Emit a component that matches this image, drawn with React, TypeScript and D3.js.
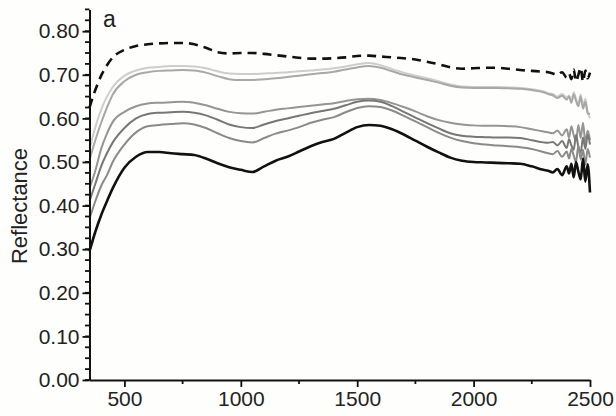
import React, { useRef, useEffect } from 'react';
import * as d3 from 'd3';

// wavelengths (nm): coarse until 2300, then finer where the spectra get noisy
const wavelengths = [
  350, 375, 400, 425, 450, 500, 550, 600, 650, 700, 750, 800, 850, 900, 950, 1000,
  1050, 1100, 1150, 1200, 1250, 1300, 1350, 1400, 1450, 1500, 1550, 1600, 1650, 1700,
  1750, 1800, 1850, 1900, 1950, 2000, 2050, 2100, 2150, 2200, 2250, 2300,
  2320, 2340, 2360, 2380, 2400, 2410, 2420, 2430, 2440, 2450, 2460, 2470, 2480, 2490, 2500
];

const dashedTop = [
  0.625, 0.665, 0.698, 0.722, 0.74, 0.757, 0.766, 0.77, 0.772, 0.773, 0.773, 0.77, 0.762, 0.752, 0.749, 0.75,
  0.75, 0.748, 0.745, 0.742, 0.739, 0.737, 0.737, 0.738, 0.74, 0.743, 0.744, 0.742, 0.74, 0.738,
  0.735, 0.73, 0.724, 0.717, 0.714, 0.715, 0.716, 0.716, 0.714, 0.711, 0.709, 0.707,
  0.706, 0.703, 0.7, 0.706, 0.694, 0.703, 0.69, 0.712, 0.685, 0.7, 0.716, 0.684, 0.71, 0.692, 0.705
];

const lightest = [
  0.53, 0.58, 0.62, 0.65, 0.672, 0.698, 0.71, 0.716, 0.718, 0.72, 0.72, 0.719, 0.715, 0.708, 0.703, 0.702,
  0.702, 0.703, 0.704, 0.706, 0.708, 0.71, 0.712, 0.715, 0.719, 0.724, 0.727, 0.722, 0.713, 0.705,
  0.698, 0.692, 0.685, 0.678, 0.673, 0.672, 0.672, 0.672, 0.671, 0.67, 0.667, 0.662,
  0.658, 0.656, 0.65, 0.656, 0.648, 0.652, 0.64, 0.66, 0.645, 0.632, 0.655, 0.628, 0.645, 0.615, 0.6
];

const light = [
  0.505, 0.55, 0.59, 0.625, 0.655, 0.685, 0.7, 0.706, 0.709, 0.71, 0.711, 0.71, 0.705, 0.697, 0.69, 0.688,
  0.688, 0.69, 0.692, 0.695, 0.698, 0.701, 0.704, 0.707, 0.712, 0.717, 0.72, 0.716, 0.708, 0.7,
  0.694, 0.688, 0.682, 0.675, 0.671, 0.67, 0.67, 0.67, 0.669, 0.668, 0.665, 0.66,
  0.656, 0.653, 0.647, 0.652, 0.643, 0.65, 0.636, 0.655, 0.64, 0.628, 0.65, 0.622, 0.638, 0.612, 0.61
];

const medium1 = [
  0.44, 0.48, 0.53, 0.565, 0.592, 0.615, 0.628, 0.634, 0.636, 0.637, 0.638, 0.636, 0.63, 0.622, 0.615, 0.612,
  0.611, 0.615, 0.62, 0.623, 0.626, 0.629, 0.632, 0.635, 0.64, 0.644, 0.645, 0.642, 0.635, 0.626,
  0.616, 0.605, 0.596, 0.59, 0.586, 0.584, 0.583, 0.583, 0.582, 0.58, 0.575, 0.57,
  0.568, 0.566, 0.572, 0.561, 0.575, 0.556, 0.582, 0.562, 0.548, 0.585, 0.555, 0.59, 0.545, 0.572, 0.55
];

const medium2 = [
  0.41, 0.45, 0.49, 0.52, 0.545, 0.578, 0.6, 0.61, 0.613, 0.614, 0.615, 0.613, 0.607, 0.597, 0.586, 0.58,
  0.578, 0.586, 0.594, 0.6, 0.606, 0.612, 0.617, 0.622, 0.63, 0.638, 0.641, 0.638, 0.628, 0.615,
  0.602, 0.589, 0.577, 0.566, 0.56, 0.558, 0.557, 0.556, 0.556, 0.555, 0.55, 0.545,
  0.544, 0.546, 0.538, 0.548, 0.532, 0.552, 0.538, 0.528, 0.562, 0.535, 0.522, 0.556, 0.53, 0.562, 0.54
];

const medium3 = [
  0.37, 0.41, 0.445, 0.47, 0.5, 0.54, 0.568, 0.582, 0.585, 0.587, 0.589, 0.586, 0.578, 0.566, 0.555, 0.548,
  0.545, 0.555, 0.565, 0.572, 0.58, 0.59, 0.597, 0.603, 0.614, 0.624, 0.628, 0.626, 0.618, 0.606,
  0.593, 0.58, 0.567, 0.556, 0.548, 0.543, 0.54, 0.538, 0.536, 0.534, 0.53, 0.523,
  0.52, 0.518, 0.525, 0.512, 0.524, 0.508, 0.53, 0.515, 0.5, 0.538, 0.506, 0.528, 0.494, 0.53, 0.51
];

const darkest = [
  0.295, 0.34, 0.378, 0.41, 0.44, 0.487, 0.512, 0.523, 0.523, 0.52, 0.518, 0.516, 0.508, 0.497, 0.488, 0.482,
  0.477, 0.49, 0.503, 0.512, 0.524, 0.536, 0.546, 0.553, 0.567, 0.58, 0.585, 0.583, 0.575, 0.563,
  0.549, 0.535, 0.522, 0.51, 0.503, 0.5, 0.499, 0.498, 0.497, 0.496, 0.49, 0.482,
  0.48, 0.476, 0.484, 0.47, 0.49, 0.474, 0.496, 0.465, 0.5, 0.478, 0.46, 0.508, 0.455, 0.495, 0.43
];

const yTicks = [0, 0.1, 0.2, 0.3, 0.4, 0.5, 0.6, 0.7, 0.8];
const xTicks = [500, 1000, 1500, 2000, 2500];

const series = [
  { values: dashedTop, color: '#111', width: 2.6, dash: '9,6' },
  { values: lightest, color: '#cdcdcd', width: 2, dash: null },
  { values: light, color: '#a8a8a8', width: 2, dash: null },
  { values: medium1, color: '#959595', width: 2, dash: null },
  { values: medium2, color: '#777', width: 2, dash: null },
  { values: medium3, color: '#8a8a8a', width: 2, dash: null },
  { values: darkest, color: '#111', width: 2.6, dash: null },
];

const App = () => {
  const svgRef = useRef(null);
  const width = 616;
  const height = 416;

  useEffect(() => {
    const svg = d3.select(svgRef.current);
    svg.selectAll('*').remove();
    const font = '"Liberation Sans", Arial, sans-serif';

    svg.append('rect').attr('width', width).attr('height', height).attr('fill', '#fefefd');

    const x = d3.scaleLinear().domain([350, 2500]).range([89.5, 590]);
    const y = d3.scaleLinear().domain([0, 0.85]).range([380, 9.4]);

    const line = d3.line()
      .x((_, i) => x(wavelengths[i]))
      .y(d => y(d))
      .curve(d3.curveMonotoneX);

    const plot = svg.append('g');
    series.forEach(s => {
      plot.append('path')
        .datum(s.values)
        .attr('d', line)
        .attr('fill', 'none')
        .attr('stroke', s.color)
        .attr('stroke-width', s.width)
        .attr('stroke-linejoin', 'round')
        .attr('stroke-dasharray', s.dash);
    });

    // minor ticks
    const minorY = d3.range(0, 0.851, 0.025);
    svg.append('g').selectAll('line')
      .data(minorY)
      .enter()
      .append('line')
      .attr('x1', 89.5).attr('x2', 85)
      .attr('y1', d => y(d)).attr('y2', d => y(d))
      .attr('stroke', '#111').attr('stroke-width', 1.8);

    const minorX = [750, 1250, 1750, 2250];
    svg.append('g').selectAll('line')
      .data(minorX)
      .enter()
      .append('line')
      .attr('x1', d => x(d)).attr('x2', d => x(d))
      .attr('y1', 380).attr('y2', 384)
      .attr('stroke', '#111').attr('stroke-width', 1.8);

    const yAxis = svg.append('g')
      .attr('transform', `translate(${x(350)},0)`)
      .call(d3.axisLeft(y).tickValues(yTicks).tickFormat(d3.format('.2f')).tickSize(7).tickSizeOuter(0).tickPadding(3));

    const xAxis = svg.append('g')
      .attr('transform', `translate(0,${y(0)})`)
      .call(d3.axisBottom(x).tickValues(xTicks).tickFormat(d3.format('d')).tickSize(7).tickSizeOuter(0).tickPadding(4));

    [yAxis, xAxis].forEach(a => {
      a.select('.domain').attr('stroke', '#111').attr('stroke-width', 2);
      a.selectAll('.tick line').attr('stroke', '#111').attr('stroke-width', 1.8);
      a.selectAll('.tick text')
        .attr('fill', '#222')
        .style('font-family', font)
        .style('font-size', '21px');
    });

    svg.append('text')
      .attr('transform', 'translate(27,206) rotate(-90)')
      .attr('text-anchor', 'middle')
      .style('font-family', font)
      .style('font-size', '22px')
      .attr('fill', '#222')
      .text('Reflectance');

    svg.append('text')
      .attr('x', 103)
      .attr('y', 27)
      .style('font-family', font)
      .style('font-size', '23px')
      .attr('fill', '#222')
      .text('a');
  }, []);

  return (
    <svg
      ref={svgRef}
      width={width}
      height={height}
      style={{ position: 'absolute', left: 0, top: 0, display: 'block' }}
    ></svg>
  );
};

export default App;
